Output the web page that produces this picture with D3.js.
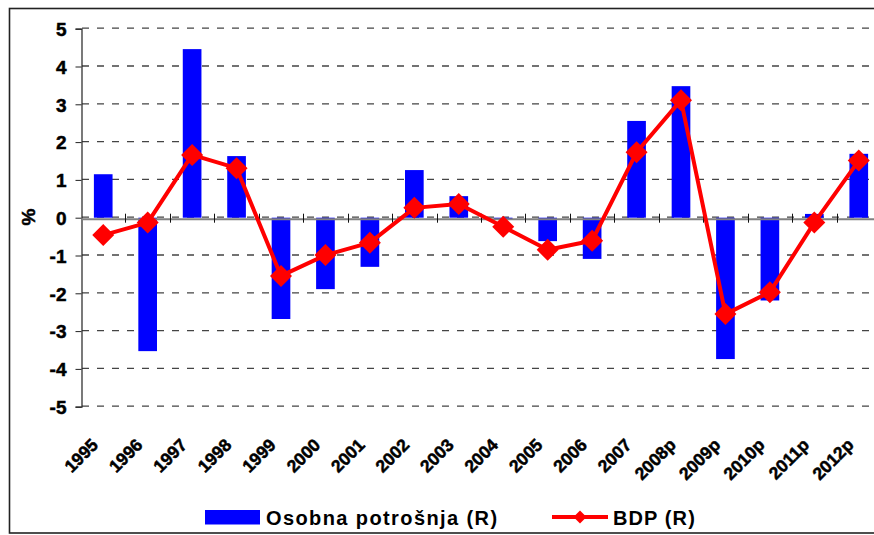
<!DOCTYPE html>
<html><head><meta charset="utf-8">
<script src="https://cdn.jsdelivr.net/npm/d3@7"></script>
<style>
html,body{margin:0;padding:0;background:#fff;}
svg{display:block;font-family:"Liberation Sans",Arial,sans-serif;}
</style></head>
<body>
<svg id="c" width="874" height="535"></svg>
<script>
const categories = ["1995","1996","1997","1998","1999","2000","2001","2002","2003","2004","2005","2006","2007","2008p","2009p","2010p","2011p","2012p"];
const osobnaPotrosnja = [1.15,-3.53,4.46,1.63,-2.68,-1.89,-1.30,1.26,0.57,-0.05,-0.62,-1.09,2.56,3.48,-3.74,-2.19,0.10,1.69];
const bdp = [-0.46,-0.13,1.66,1.31,-1.54,-0.99,-0.66,0.26,0.36,-0.24,-0.85,-0.61,1.73,3.11,-2.55,-1.97,-0.13,1.51];
const yTicks = [-5,-4,-3,-2,-1,0,1,2,3,4,5];
const seriesNames = ["Osobna potrošnja (R)","BDP (R)"];
const yTitle = "%";

const svg = d3.select("#c");
svg.append("rect").attr("x",9.5).attr("y",8.5).attr("width",880).attr("height",524.5)
  .attr("fill","#fff").attr("stroke","#222").attr("stroke-width",1.6);

const x = d3.scaleBand().domain(categories).range([81,881]).padding(0);
const y = d3.scaleLinear().domain([-5,5]).range([406.7,28.7]);

// gridlines
svg.append("g").selectAll("line").data(yTicks).join("line")
  .attr("x1",82).attr("x2",874).attr("y1",d=>y(d)-0.5).attr("y2",d=>y(d)-0.5)
  .attr("stroke","#444").attr("stroke-width",1.3).attr("stroke-dasharray","7,8");

// bars
const bw = x.bandwidth()*0.42;
svg.append("g").selectAll("rect").data(categories).join("rect")
  .attr("x",(d)=>x(d)+x.bandwidth()/2-bw/2)
  .attr("width",bw)
  .attr("y",(d,i)=>Math.min(y(osobnaPotrosnja[i]),y(0)))
  .attr("height",(d,i)=>Math.abs(y(osobnaPotrosnja[i])-y(0)))
  .attr("fill","#0000FF");

// y axis
const yAxis = d3.axisLeft(y).tickValues(yTicks).tickSize(6).tickPadding(9).tickFormat(d=>String(d));
const ya = svg.append("g").attr("transform","translate(81.5,0)").call(yAxis);
ya.attr("font-size",null).attr("font-family",null);
ya.select(".domain").attr("stroke","#222").attr("stroke-width",1.2);
ya.selectAll(".tick line").attr("stroke","#222");
ya.selectAll(".tick text").style("font-size","19px").style("font-weight","bold").attr("fill","#000")
  .attr("stroke","#000").attr("stroke-width",0.5).attr("dy","0.36em");

// x axis at zero
const xAxis = d3.axisBottom(x).tickSize(0).tickFormat("");
const xa = svg.append("g").attr("transform",`translate(0,${y(0)+1})`).call(xAxis);
xa.select(".domain").attr("stroke","#808080").attr("stroke-width",2);
svg.append("g").selectAll("line").data(categories.slice(1)).join("line")
  .attr("x1",d=>Math.round(x(d))+0.5).attr("x2",d=>Math.round(x(d))+0.5)
  .attr("y1",y(0)-4).attr("y2",y(0)+5).attr("stroke","#111").attr("stroke-width",1);

// line series
const line = d3.line().x((d,i)=>x(categories[i])+x.bandwidth()/2).y(d=>y(d));
svg.append("path").datum(bdp).attr("d",line).attr("fill","none")
  .attr("stroke","#FF0000").attr("stroke-width",4).attr("stroke-linejoin","round");
const dia = (cx,cy,r)=>`M${cx},${cy-r}L${cx+r},${cy}L${cx},${cy+r}L${cx-r},${cy}Z`;
svg.append("g").selectAll("path").data(bdp).join("path")
  .attr("d",(d,i)=>dia(x(categories[i])+x.bandwidth()/2,y(d),11))
  .attr("fill","#FF0000");

// x labels
svg.append("g").selectAll("text").data(categories).join("text")
  .attr("transform",d=>`translate(${x(d)+x.bandwidth()/2-4},446) rotate(-45)`)
  .attr("text-anchor","end").style("font-size","17.5px").style("font-weight","bold")
  .attr("stroke","#000").attr("stroke-width",0.5).text(d=>d);

// y title
svg.append("text").attr("transform","translate(35,217) rotate(-90)")
  .attr("text-anchor","middle").style("font-size","19px").style("font-weight","bold")
  .attr("stroke","#000").attr("stroke-width",0.5).text(yTitle);

// legend
svg.append("rect").attr("x",205).attr("y",510).attr("width",55).attr("height",14.5).attr("fill","#0000FF");
svg.append("text").attr("x",266).attr("y",525).style("font-size","20px").style("font-weight","bold")
  .attr("letter-spacing",1.4).text(seriesNames[0]);
svg.append("line").attr("x1",552).attr("x2",608).attr("y1",517).attr("y2",517)
  .attr("stroke","#FF0000").attr("stroke-width",4);
svg.append("path").attr("d",dia(580,517,6.5)).attr("fill","#FF0000");
svg.append("text").attr("x",613).attr("y",525).style("font-size","20px").style("font-weight","bold")
  .attr("letter-spacing",1.1).text(seriesNames[1]);
</script>
</body></html>
